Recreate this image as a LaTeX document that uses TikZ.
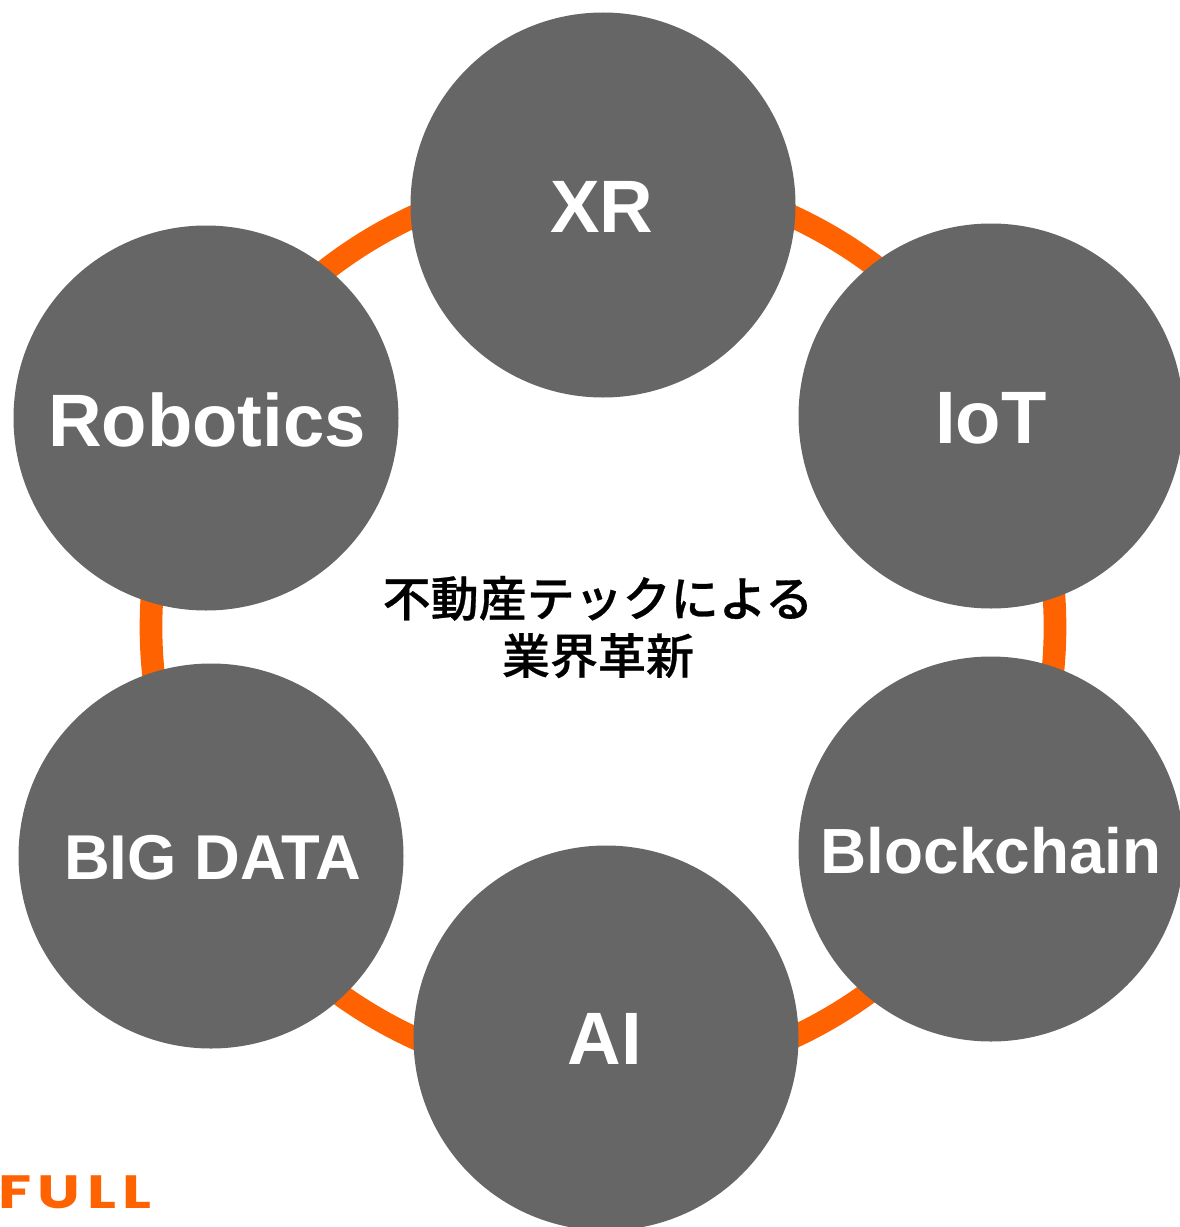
\documentclass[tikz,border=0pt]{standalone}
\usepackage{fontspec}
\setmainfont{Liberation Sans}
\newfontfamily\cjk{Noto Sans CJK JP}[UprightFont=* Medium,BoldFont=* Medium,FakeBold=0.6]
\newfontfamily\logofont{Poppins}[LetterSpace=14,FakeStretch=1.3]
\definecolor{disc}{HTML}{666666}
\definecolor{ring}{HTML}{FF6200}
\tikzset{
  px/.style={x=0.75pt,y=-0.75pt},
  disc/.style={circle,fill=disc,minimum size=288.75pt,inner sep=0pt},
  big/.style={text=white,font=\bfseries\fontsize{55.7}{60}\selectfont},
  mid/.style={text=white,font=\bfseries\fontsize{47.9}{60}\selectfont},
  centre/.style={align=center,font=\cjk\fontsize{36}{43}\selectfont,text=black},
  logo/.style={anchor=west,inner sep=0pt,text=ring,font=\logofont\bfseries\fontsize{35}{38}\selectfont}
}
\begin{document}
\begin{tikzpicture}[px]
\useasboundingbox (0,0) rectangle (1179,1227);
\coordinate (hub) at (603,627);
\draw[ring,line width=17pt] (hub) circle[radius=452];
\node[disc] (xr) at (603,205) {};
\node[disc] (iot) at (991,416) {};
\node[disc] (bc) at (991,849) {};
\node[disc] (ai) at (606,1038) {};
\node[disc] (bd) at (211,856) {};
\node[disc] (rb) at (206,418) {};
\node[big] (t1) at (602,207) {XR};
\node[big] (t2) at (991,418) {IoT};
\node[mid] (t3) at (991,851) {Blockchain};
\node[big] (t4) at (605,1039) {AI};
\node[mid,font=\bfseries\fontsize{47.5}{60}\selectfont] (t5) at (212.5,858) {BIG DATA};
\node[big] (t6) at (207,420) {Robotics};
\node[centre] (c) at (598,627) {不動産テックによる\\業界革新};
\node[logo] (f) at (-2,1192.5) {FULL};
\end{tikzpicture}
\end{document}
